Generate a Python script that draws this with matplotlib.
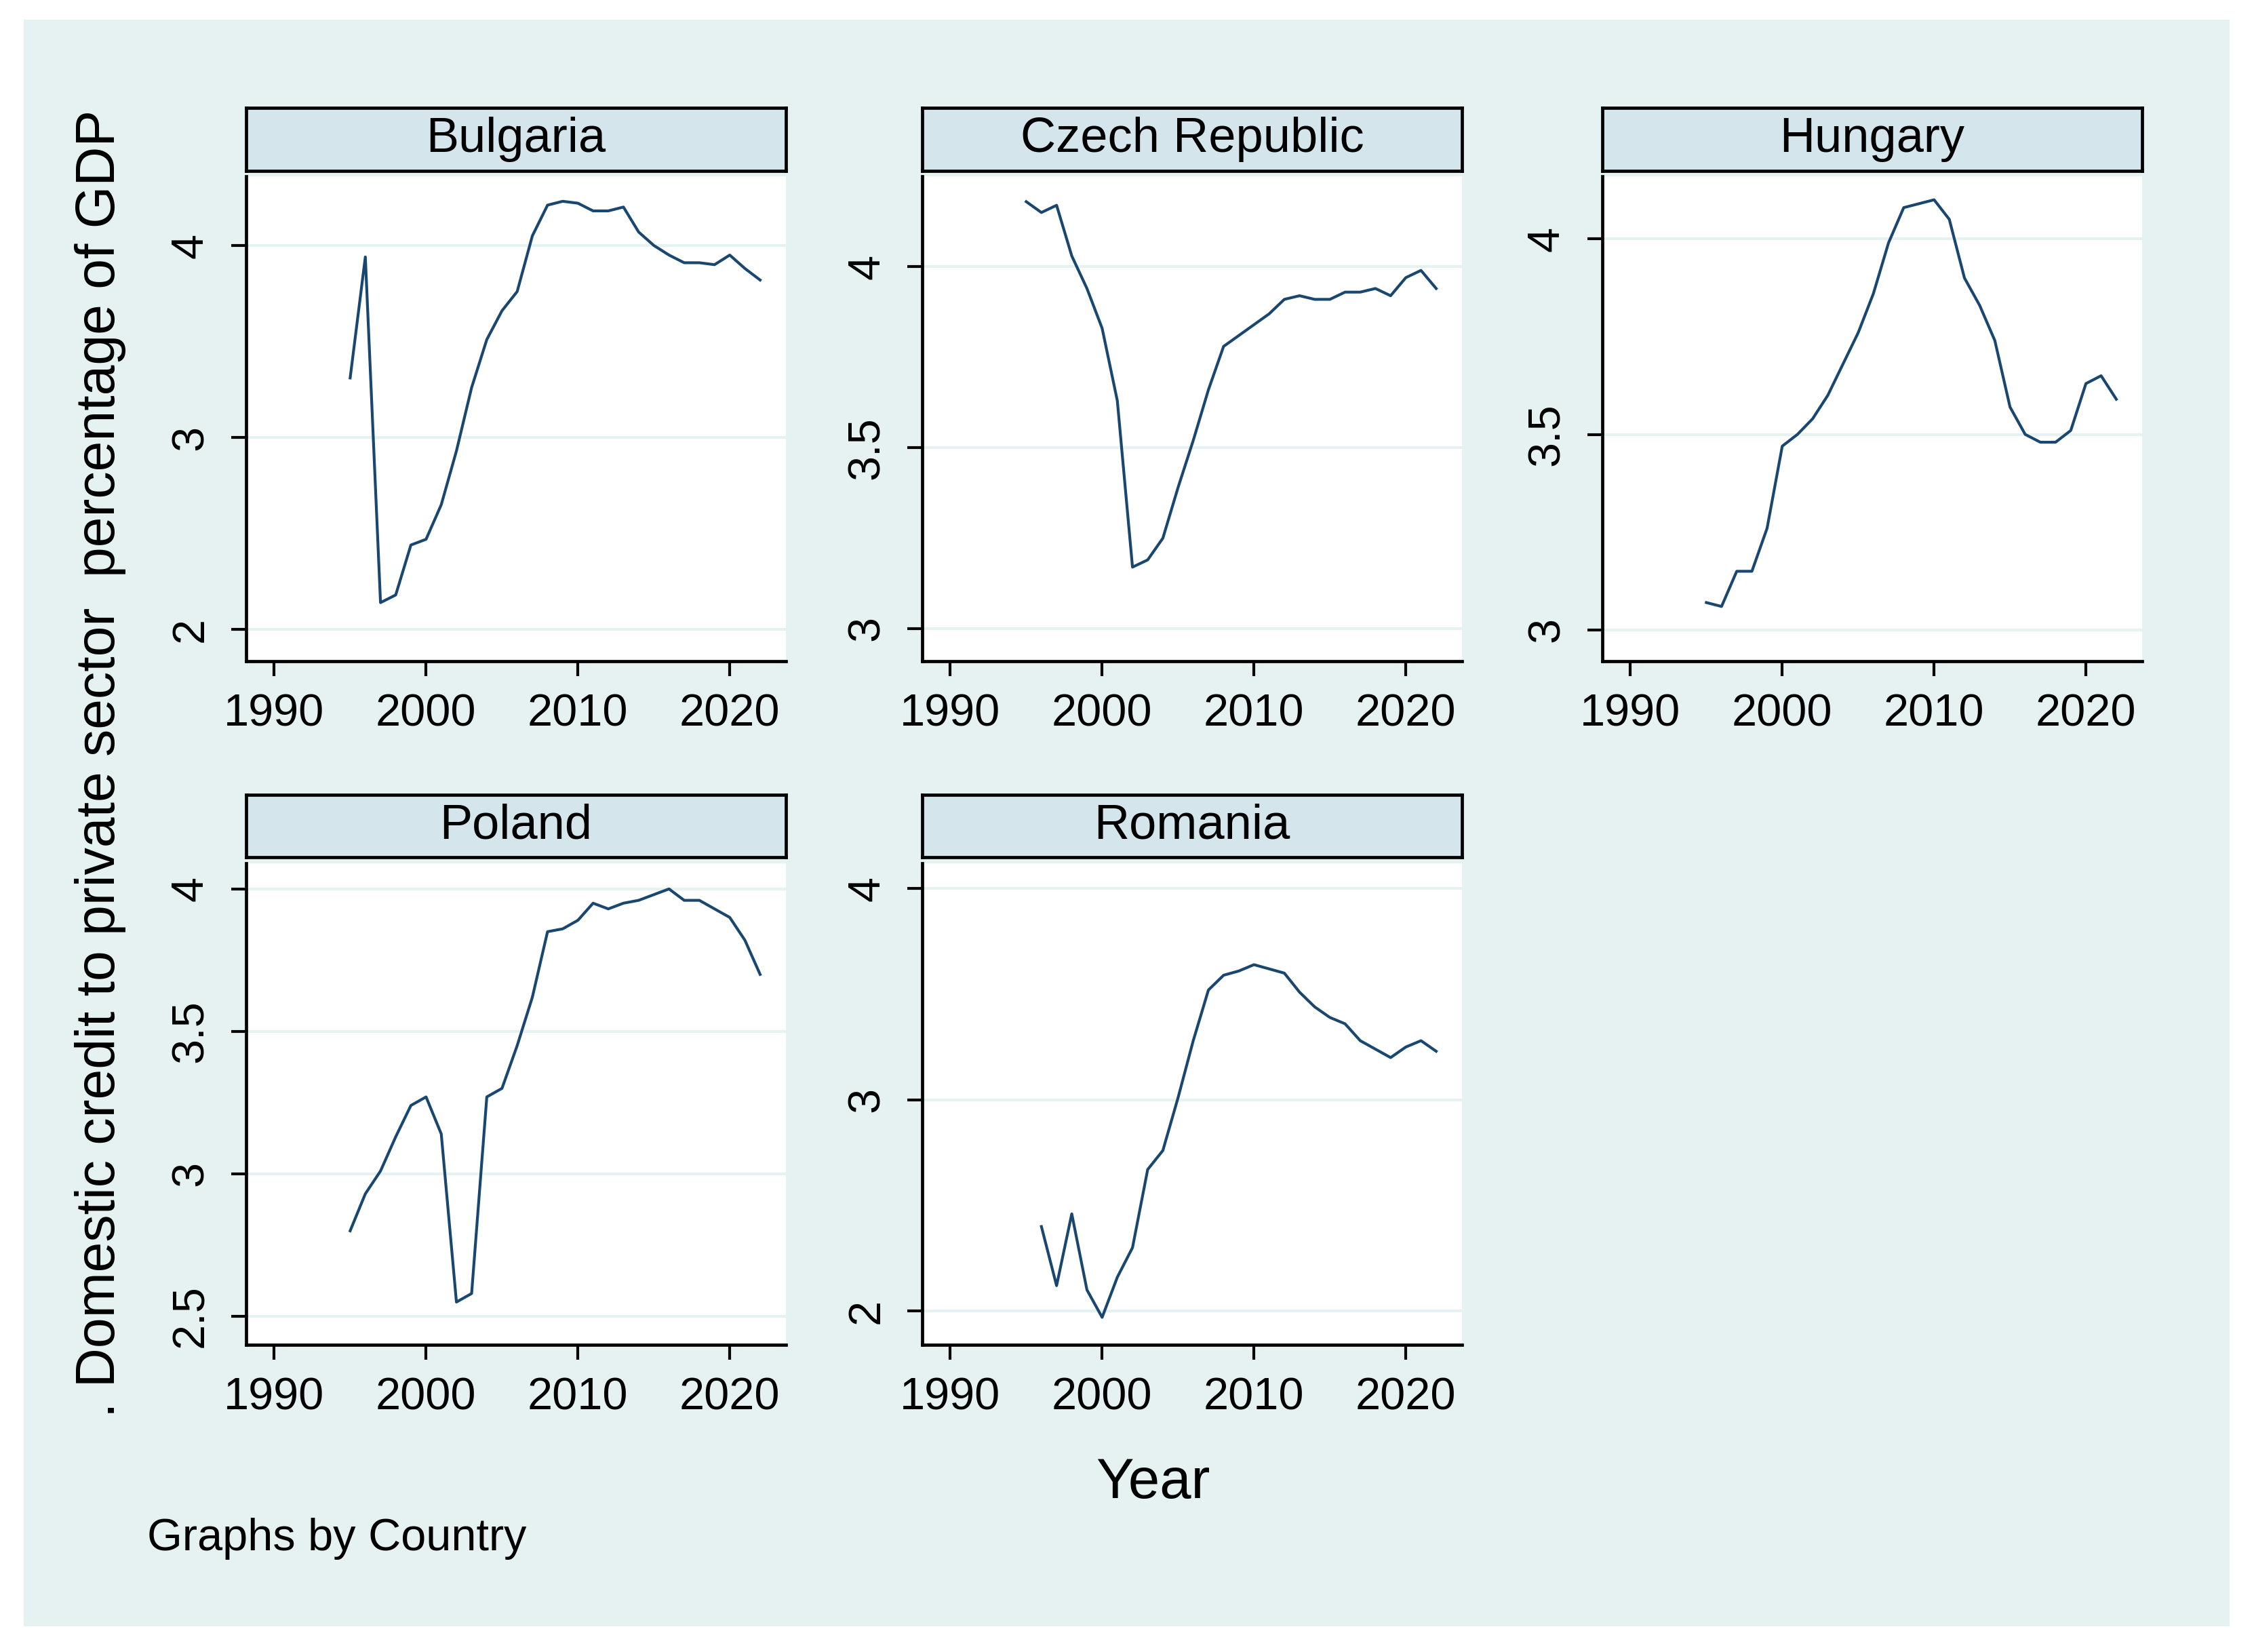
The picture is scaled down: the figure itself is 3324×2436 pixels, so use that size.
import matplotlib.pyplot as plt
from matplotlib.patches import Rectangle

plt.rcParams['font.family'] = ['Liberation Sans', 'DejaVu Sans']

# years and log credit values
years = list(range(1995, 2023))
years_ro = list(range(1996, 2023))

bulgaria = [3.31, 3.94, 2.14, 2.18, 2.44, 2.47, 2.65, 2.93, 3.26, 3.51, 3.66, 3.76, 4.05, 4.21,
            4.23, 4.22, 4.18, 4.18, 4.20, 4.07, 4.00, 3.95, 3.91, 3.91, 3.90, 3.95, 3.88, 3.82]
czech = [4.18, 4.15, 4.17, 4.03, 3.94, 3.83, 3.63, 3.17, 3.19, 3.25, 3.39, 3.52, 3.66, 3.78,
         3.81, 3.84, 3.87, 3.91, 3.92, 3.91, 3.91, 3.93, 3.93, 3.94, 3.92, 3.97, 3.99, 3.94]
hungary = [3.07, 3.06, 3.15, 3.15, 3.26, 3.47, 3.50, 3.54, 3.60, 3.68, 3.76, 3.86, 3.99, 4.08,
           4.09, 4.10, 4.05, 3.90, 3.83, 3.74, 3.57, 3.50, 3.48, 3.48, 3.51, 3.63, 3.65, 3.59]
poland = [2.80, 2.93, 3.01, 3.13, 3.24, 3.27, 3.14, 2.55, 2.58, 3.27, 3.30, 3.45, 3.62, 3.85,
          3.86, 3.89, 3.95, 3.93, 3.95, 3.96, 3.98, 4.00, 3.96, 3.96, 3.93, 3.90, 3.82, 3.70]
romania = [2.40, 2.12, 2.46, 2.10, 1.97, 2.16, 2.30, 2.67, 2.76, 3.01, 3.28, 3.52, 3.59,
           3.61, 3.64, 3.62, 3.60, 3.51, 3.44, 3.39, 3.36, 3.28, 3.24, 3.20, 3.25, 3.28, 3.23]

countries = ['Bulgaria', 'Czech Republic', 'Hungary', 'Poland', 'Romania']
series = [(years, bulgaria), (years, czech), (years, hungary), (years, poland), (years_ro, romania)]
yticks = [[2, 3, 4], [3, 3.5, 4], [3, 3.5, 4], [2.5, 3, 3.5, 4], [2, 3, 4]]
ytick_labels = [['2', '3', '4'], ['3', '3.5', '4'], ['3', '3.5', '4'],
                ['2.5', '3', '3.5', '4'], ['2', '3', '4']]
ylims = [(1.835, 4.36), (2.91, 4.25), (2.92, 4.16), (2.40, 4.09), (1.84, 4.12)]
xticks = [1990, 2000, 2010, 2020]

W, H = 3324, 2436
fig = plt.figure(figsize=(W / 200, H / 200), dpi=200, facecolor='white')

# light panel behind everything
fig.patches.append(Rectangle((35 / W, 1 - 2398 / H), (3288 - 35) / W, (2398 - 29) / H,
                             transform=fig.transFigure, facecolor='#e6f1f1',
                             edgecolor='none', zorder=-5))

col_left = [363, 1360, 2363]
col_w = 796
rows = [(260, 975, 159, 252), (1273, 1983, 1172, 1264)]

line_col = '#1a476f'
grid_col = '#e6f1f1'

for i, name in enumerate(countries):
    r, c = divmod(i, 3)
    top, bot, s_top, s_bot = rows[r]
    x0 = col_left[c]
    ax = fig.add_axes([x0 / W, 1 - bot / H, col_w / W, (bot - top) / H])
    ax.set_facecolor('white')
    xs, ys = series[i]
    ax.plot(xs, ys, color=line_col, lw=1.5, zorder=3)
    ax.set_xlim(1988.15, 2023.7)
    ax.set_ylim(*ylims[i])
    ax.set_xticks(xticks)
    ax.set_xticklabels([str(t) for t in xticks])
    ax.set_yticks(yticks[i])
    ax.set_yticklabels(ytick_labels[i], rotation=90, va='center')
    for yv in yticks[i]:
        ax.axhline(yv, color=grid_col, lw=1.5, zorder=1)
    ax.spines['top'].set_visible(False)
    ax.spines['right'].set_visible(False)
    ax.spines['left'].set_linewidth(1.7)
    ax.spines['bottom'].set_linewidth(1.7)
    ax.tick_params(axis='both', length=8, width=1.5, labelsize=24, color='black')
    ax.tick_params(axis='x', pad=9)
    ax.tick_params(axis='y', pad=10)

    # strip title box
    sax = fig.add_axes([x0 / W, 1 - s_bot / H, col_w / W, (s_bot - s_top) / H])
    sax.set_facecolor('#d5e5ec')
    sax.set_xticks([])
    sax.set_yticks([])
    for sp in sax.spines.values():
        sp.set_linewidth(1.7)
    sax.text(0.5, 0.5, name, ha='center', va='center', fontsize=26,
             transform=sax.transAxes)

fig.text(148 / W, 1 - 1126 / H, '. Domestic credit to private sector  percentage of GDP',
         rotation=90, ha='center', va='center', fontsize=29)
fig.text(1700 / W, 1 - 2209 / H, 'Year', ha='center', va='baseline', fontsize=30)
fig.text(217 / W, 1 - 2286 / H, 'Graphs by Country', ha='left', va='baseline', fontsize=24)

fig.savefig('out.png', dpi=200, facecolor='white')
